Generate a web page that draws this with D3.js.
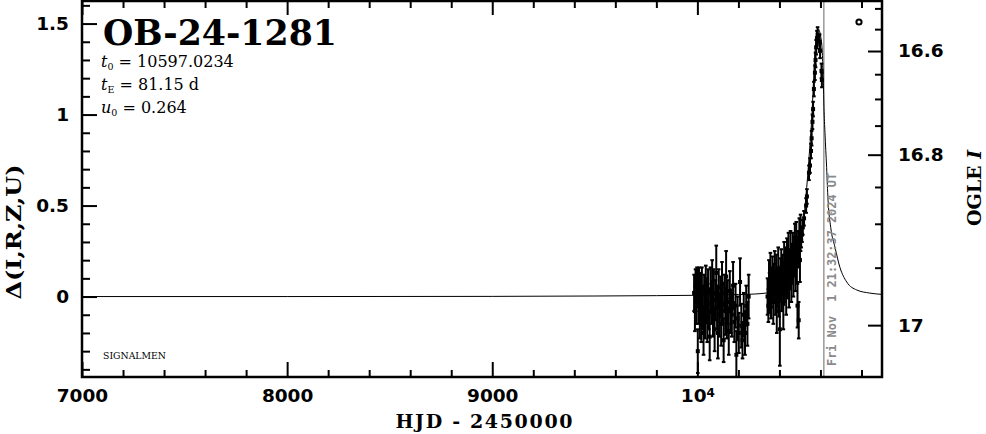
<!DOCTYPE html>
<html><head><meta charset="utf-8">
<script src="https://cdn.jsdelivr.net/npm/d3@7"></script>
<style>html,body{margin:0;padding:0;background:#fff;} svg{display:block;}</style>
</head><body>
<svg id="c" width="986" height="434"></svg>
<script>
// ---------------- data ----------------
const xDomain = [7000, 10900];
const yDomain = [-0.442, 1.624];
const xMajorTicks = [7000, 8000, 9000, 10000];
const xMinorTicks = [7200,7400,7600,7800,8200,8400,8600,8800,9200,9400,9600,9800,10200,10400,10600,10800];
const yMajorTicks = [0, 0.5, 1, 1.5];
const yMajorLabels = ["0", "0.5", "1", "1.5"];
const yMinorTicks = [-0.4,-0.3,-0.2,-0.1,0.1,0.2,0.3,0.4,0.6,0.7,0.8,0.9,1.1,1.2,1.3,1.4,1.6];
const magMajorTicks = [16.6, 16.8, 17];
const magMajorLabels = ["16.6", "16.8", "17"];
const magMinorTicks = [16.5, 16.55, 16.65, 16.7, 16.75, 16.85, 16.9, 16.95];
const nowT = 10616.40;
const nowLabel = "Fri Nov  1 21:32:37 2024 UT";

// model curve
const modelT = [7000,8000,9000,9500,9800,10000,10100,10200,10280,10340,10380,10410,10440,10460,10480,10495,10508,10520,10533,10546,10557,10565,10573,10580,10586,10590,10595,10601,10609,10614,10617,10622,10630,10637,10650,10671,10695,10728,10777,10841,10900];
const modelD = [0,0,0.001,0.003,0.005,0.007,0.009,0.011,0.014,0.02,0.03,0.045,0.08,0.12,0.19,0.26,0.33,0.44,0.60,0.79,0.97,1.15,1.34,1.42,1.46,1.47,1.46,1.43,1.34,1.18,1.04,0.90,0.71,0.53,0.38,0.27,0.16,0.08,0.036,0.019,0.012];

// OGLE photometry: season 1
const s1T = [9984,9988,9991,9995,9998,10002,10005,10008,10012,10015,10019,10022,10026,10030,10033,10037,10041,10044,10048,10052,10056,10060,10064,10068,10072,10076,10080,10084,10088,10092,10096,10100,10104,10108,10112,10116,10120,10124,10128,10132,10136,10140,10144,10148,10153,10158,10163,10168,10174,10180,10186,10190,10196,10202,10208,10214,10220,10226,10232,10238,10244,10250];
const s1D = [0.02,-0.08,0.06,-0.03,0.05,-0.30,-0.05,0.04,-0.12,0.00,-0.15,0.05,-0.06,-0.20,0.02,-0.10,0.06,-0.02,-0.14,0.03,-0.08,-0.22,0.04,-0.04,0.08,-0.12,0.02,-0.18,-0.02,0.13,-0.06,-0.20,0.05,-0.10,0.00,-0.15,0.07,-0.04,-0.24,0.02,-0.08,0.11,-0.12,-0.03,-0.19,0.03,-0.08,-0.10,0.06,-0.14,-0.05,-0.32,-0.12,-0.20,0.08,-0.16,-0.24,-0.10,-0.20,-0.05,-0.15,0.00];
const s1E = [0.10,0.11,0.09,0.12,0.11,0.12,0.10,0.12,0.11,0.13,0.10,0.11,0.12,0.12,0.10,0.13,0.11,0.12,0.11,0.12,0.10,0.13,0.12,0.11,0.12,0.10,0.13,0.12,0.11,0.15,0.12,0.14,0.10,0.12,0.11,0.12,0.12,0.11,0.12,0.10,0.13,0.14,0.11,0.12,0.13,0.11,0.12,0.12,0.13,0.11,0.12,0.13,0.12,0.11,0.13,0.12,0.10,0.12,0.12,0.11,0.12,0.12];
// season 2
const s2T = [10342,10346,10349,10352,10356,10359,10362,10366,10370,10373,10377,10380,10384,10387,10391,10394,10398,10402,10405,10409,10412,10416,10419,10423,10426,10430,10433,10437,10440,10444,10447,10451,10454,10458,10461,10465,10468,10472,10475,10478,10482,10485,10488,10491,10494,10497,10500,10503];
const s2D = [0.00,-0.05,0.08,0.02,0.12,-0.02,0.05,0.10,-0.03,0.08,0.14,0.02,0.10,-0.08,0.05,0.15,0.02,-0.18,0.09,0.16,0.04,0.12,-0.04,0.18,0.08,0.14,0.02,0.20,0.10,0.22,0.06,0.15,0.24,0.10,0.18,0.25,0.12,0.22,0.28,0.15,0.30,0.20,-0.05,0.26,-0.13,0.32,0.20,0.35];
const s2E = [0.10,0.09,0.12,0.11,0.12,0.10,0.11,0.12,0.12,0.10,0.11,0.12,0.13,0.12,0.11,0.12,0.13,0.20,0.12,0.10,0.12,0.11,0.14,0.12,0.11,0.13,0.12,0.12,0.11,0.13,0.12,0.11,0.12,0.13,0.11,0.10,0.12,0.11,0.12,0.12,0.11,0.12,0.12,0.10,0.10,0.11,0.12,0.10];
// season 3 (the rise)
const s3T = [10506,10510,10514,10520,10530,10534,10544,10549,10554,10557,10561,10564,10568,10573,10576,10579,10583,10586,10596,10598,10605,10607];
const s3D = [0.31,0.34,0.38,0.43,0.50,0.55,0.68,0.72,0.80,0.87,0.96,1.03,1.14,1.23,1.30,1.37,1.42,1.44,1.40,1.35,1.24,1.19];
const s3E = [0.04,0.04,0.04,0.04,0.04,0.04,0.04,0.04,0.04,0.04,0.04,0.04,0.04,0.04,0.04,0.04,0.04,0.04,0.04,0.04,0.04,0.04];

// ---------------- chart ----------------
const svg = d3.select("#c");
const M = {left: 82, right: 882, top: 1, bottom: 377};
const x = d3.scaleLinear().domain(xDomain).range([M.left, M.right]);
const y = d3.scaleLinear().domain(yDomain).range([M.bottom, M.top]);

// OGLE I magnitude <-> Delta mapping of the right-hand axis
const MAG_ZERO = 17.0526, MAG_SLOPE = 13.28, MAG_EXP = 2.1;
const deltaOfMag = I => Math.pow(MAG_SLOPE * (MAG_ZERO - I), 1 / MAG_EXP) - 1;

svg.append("defs").append("clipPath").attr("id", "clip")
  .append("rect").attr("x", M.left).attr("y", M.top)
  .attr("width", M.right - M.left).attr("height", M.bottom - M.top);

const plot = svg.append("g").attr("clip-path", "url(#clip)");

plot.append("line")
  .attr("x1", x(nowT)).attr("x2", x(nowT)).attr("y1", M.top).attr("y2", M.bottom)
  .attr("stroke", "#999").attr("stroke-width", 1.5);

const model = modelT.map((t, i) => [t, modelD[i]]);
plot.append("path").datum(model)
  .attr("d", d3.line().x(d => x(d[0])).y(d => y(d[1])).curve(d3.curveMonotoneX))
  .attr("fill", "none").attr("stroke", "#000").attr("stroke-width", 1);

const pts = [];
[[s1T, s1D, s1E], [s2T, s2D, s2E], [s3T, s3D, s3E]].forEach(([T, D, E]) => {
  T.forEach((t, i) => pts.push({t: t, d: D[i], e: E[i]}));
});
const g = plot.append("g").attr("stroke", "#000").attr("stroke-width", 2);
const pg = g.selectAll("g.pt").data(pts).join("g").attr("class", "pt");
pg.append("line").attr("x1", d => x(d.t)).attr("x2", d => x(d.t))
  .attr("y1", d => y(d.d - d.e)).attr("y2", d => y(d.d + d.e));
pg.append("line").attr("x1", d => x(d.t) - 1.8).attr("x2", d => x(d.t) + 1.8)
  .attr("y1", d => y(d.d - d.e)).attr("y2", d => y(d.d - d.e));
pg.append("line").attr("x1", d => x(d.t) - 1.8).attr("x2", d => x(d.t) + 1.8)
  .attr("y1", d => y(d.d + d.e)).attr("y2", d => y(d.d + d.e));
pg.append("rect").attr("x", d => x(d.t) - 2).attr("y", d => y(d.d) - 2)
  .attr("width", 4).attr("height", 4).attr("fill", "#000").attr("stroke", "none");

// ---------------- axes ----------------
function styleAxis(sel) {
  sel.select(".domain").remove();
  sel.selectAll(".tick line").attr("stroke", "#000").attr("stroke-width", 2);
  sel.selectAll(".tick text").attr("font-family", "DejaVu Sans").attr("font-weight", "bold")
    .attr("font-size", 18.5).attr("fill", "#000");
}
// left
svg.append("g").attr("transform", `translate(${M.left},0)`)
  .call(d3.axisLeft(y).tickValues(yMinorTicks).tickSize(-8).tickFormat("")).call(styleAxis);
svg.append("g").attr("transform", `translate(${M.left},0)`)
  .call(d3.axisLeft(y).tickValues(yMajorTicks).tickSize(-15).tickPadding(13)
    .tickFormat((d, i) => yMajorLabels[i])).call(styleAxis);
// bottom
svg.append("g").attr("transform", `translate(0,${M.bottom})`)
  .call(d3.axisBottom(x).tickValues(xMinorTicks).tickSize(-7).tickFormat("")).call(styleAxis);
const xb = svg.append("g").attr("transform", `translate(0,${M.bottom})`)
  .call(d3.axisBottom(x).tickValues(xMajorTicks).tickSize(-15).tickPadding(12)
    .tickFormat(d => d === 10000 ? "" : String(d))).call(styleAxis);
xb.selectAll(".tick text").filter(d => d === 10000).each(function() {
  const t = d3.select(this);
  t.append("tspan").text("10");
  t.append("tspan").attr("font-size", 12).attr("dy", "-0.45em").text("4");
});
// top
svg.append("g").attr("transform", `translate(0,${M.top})`)
  .call(d3.axisTop(x).tickValues(xMinorTicks).tickSize(-7).tickFormat("")).call(styleAxis);
svg.append("g").attr("transform", `translate(0,${M.top})`)
  .call(d3.axisTop(x).tickValues(xMajorTicks).tickSize(-14).tickFormat("")).call(styleAxis);
// right (OGLE I)
svg.append("g").attr("transform", `translate(${M.right},0)`)
  .call(d3.axisRight(y).tickValues(magMinorTicks.map(deltaOfMag)).tickSize(-7).tickFormat("")).call(styleAxis);
svg.append("g").attr("transform", `translate(${M.right},0)`)
  .call(d3.axisRight(y).tickValues(magMajorTicks.map(deltaOfMag)).tickSize(-14).tickPadding(16)
    .tickFormat((d, i) => magMajorLabels[i])).call(styleAxis);

// frame
svg.append("rect").attr("x", M.left).attr("y", M.top)
  .attr("width", M.right - M.left).attr("height", M.bottom - M.top)
  .attr("fill", "none").attr("stroke", "#000").attr("stroke-width", 2.5);

// ---------------- texts ----------------
svg.append("text").attr("x", 103).attr("y", 45)
  .attr("font-family", "DejaVu Serif").attr("font-weight", "bold").attr("font-size", 36)
  .attr("textLength", 234).attr("lengthAdjust", "spacingAndGlyphs").text("OB-24-1281");

const params = [
  {v: "t", s: "0", rest: " = 10597.0234", yy: 67},
  {v: "t", s: "E", rest: " = 81.15 d", yy: 90},
  {v: "u", s: "0", rest: " = 0.264", yy: 113}
];
params.forEach(p => {
  const t = svg.append("text").attr("x", 101).attr("y", p.yy)
    .attr("font-family", "DejaVu Serif").attr("font-size", 16).attr("fill", "#000")
    .attr("xml:space", "preserve").style("white-space", "pre");
  t.append("tspan").attr("font-style", "italic").text(p.v);
  t.append("tspan").attr("font-size", 9.5).attr("dy", 3).text(p.s);
  t.append("tspan").attr("dy", -3).text(p.rest);
});

svg.append("text").attr("x", 103).attr("y", 359)
  .attr("font-family", "DejaVu Serif").attr("font-size", 9.5)
  .attr("textLength", 63).attr("lengthAdjust", "spacingAndGlyphs").text("SIGNALMEN");

svg.append("circle").attr("cx", 859).attr("cy", 22).attr("r", 2.6)
  .attr("fill", "none").attr("stroke", "#000").attr("stroke-width", 2);

svg.append("text").attr("transform", `translate(836,366) rotate(-90)`)
  .attr("font-family", "DejaVu Sans Mono").attr("font-weight", "bold").attr("font-size", 12)
  .attr("fill", "#8a8a8a").attr("xml:space", "preserve").style("white-space", "pre")
  .attr("textLength", 193).attr("lengthAdjust", "spacingAndGlyphs").text(nowLabel);

svg.append("text").attr("x", 484).attr("y", 428).attr("text-anchor", "middle")
  .attr("font-family", "DejaVu Serif").attr("font-weight", "bold").attr("font-size", 19)
  .attr("textLength", 177).attr("lengthAdjust", "spacing").text("HJD - 2450000");

svg.append("text").attr("transform", `translate(21,232) rotate(-90)`).attr("text-anchor", "middle")
  .attr("font-family", "DejaVu Serif").attr("font-weight", "bold").attr("font-size", 21)
  .attr("textLength", 135).attr("lengthAdjust", "spacingAndGlyphs").text("Δ(I,R,Z,U)");

const rl = svg.append("text").attr("transform", `translate(981,188) rotate(-90)`).attr("text-anchor", "middle")
  .attr("font-family", "DejaVu Serif").attr("font-weight", "bold").attr("font-size", 19)
  .attr("xml:space", "preserve").style("white-space", "pre");
rl.append("tspan").text("OGLE ");
rl.append("tspan").attr("font-style", "italic").text("I");
</script>
</body></html>
